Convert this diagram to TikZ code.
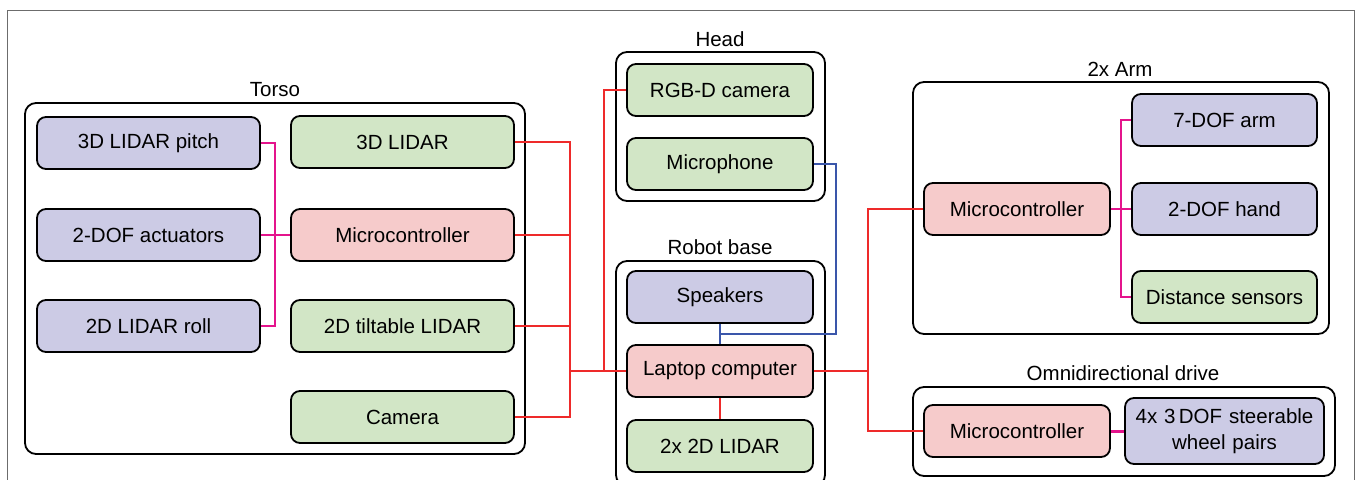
\documentclass[tikz,border=0pt]{standalone}
\usepackage{fontspec}
\setmainfont{Liberation Sans}
\definecolor{cpurple}{HTML}{CCCBE5}
\definecolor{cgreen}{HTML}{D2E6C6}
\definecolor{cpink}{HTML}{F6CBCB}
\definecolor{lred}{HTML}{EE2A2A}
\definecolor{lmag}{HTML}{E4148C}
\definecolor{lblue}{HTML}{3A56AA}
\begin{document}
\begin{tikzpicture}[x=1pt,y=-1pt,
  every node/.style={font=\fontsize{20.5}{24}\selectfont},
  box/.style={draw=black,line width=1.8pt,rounded corners=9pt,minimum height=52pt,minimum width=223pt,inner sep=0pt,align=center},
  pbox/.style={box,fill=cpurple},
  gbox/.style={box,fill=cgreen},
  rbox/.style={box,fill=cpink},
  outer/.style={draw=black,line width=1.8pt,rounded corners=11pt},
  lab/.style={inner sep=0pt},
  redl/.style={draw=lred,line width=2pt},
  magl/.style={draw=lmag,line width=2pt},
  bluel/.style={draw=lblue,line width=2pt}]
\useasboundingbox (0,0) rectangle (1356,479);
\draw[gray!85!black,line width=1pt] (7,495) -- (7,10) -- (1354,10) -- (1354,495);
% outer groups
\draw[outer] (25,103) rectangle (525,454);
\draw[outer] (616,52) rectangle (825,201);
\draw[outer] (616,261) rectangle (825,486);
\draw[outer] (913,82) rectangle (1329,334);
\draw[outer] (913,387) rectangle (1335,476);
\node[lab] (ltorso) at (275,90) {Torso};
\node[lab] (lhead) at (720,39) {Head};
\node[lab] (lbase) at (720,247) {Robot base};
\node[lab] (larm) at (1120,69) {2x Arm};
\node[lab] (lomni) at (1123,373) {Omnidirectional drive};
% torso
\node[pbox] (pitch) at (148.5,143) {3D LIDAR pitch};
\node[pbox] (act) at (148.5,235) {2-DOF actuators};
\node[pbox] (roll) at (148.5,326) {2D LIDAR roll};
\node[gbox] (tl3d) at (402.5,142) {3D LIDAR};
\node[rbox] (tmc) at (402.5,235) {Microcontroller};
\node[gbox] (ttilt) at (402.5,326) {2D tiltable LIDAR};
\node[gbox] (tcam) at (402.5,417) {Camera};
% head
\node[gbox,minimum width=186pt] (rgbd) at (720,90) {RGB-D camera};
\node[gbox,minimum width=186pt] (mic) at (720,164) {Microphone};
% base
\node[pbox,minimum width=186pt] (spk) at (720,297) {Speakers};
\node[rbox,minimum width=186pt] (laptop) at (720,371) {Laptop computer};
\node[gbox,minimum width=186pt] (lidar2) at (720,446) {2x 2D LIDAR};
% arm
\node[rbox,minimum width=186pt] (armmc) at (1017,209) {Microcontroller};
\node[pbox,minimum width=185pt] (arm7) at (1224.5,120) {7-DOF arm};
\node[pbox,minimum width=185pt] (hand) at (1224.5,209) {2-DOF hand};
\node[gbox,minimum width=185pt] (dist) at (1224.5,297) {Distance sensors};
% omni
\node[rbox,minimum width=186pt] (omc) at (1017,431) {Microcontroller};
\node[pbox,minimum width=199pt,minimum height=66pt,text width=190pt] (wheel) at (1224.5,431) {4x 3\,DOF steerable\\[2pt]wheel pairs};
% junction coordinates
\coordinate (tm) at (275,235);
\coordinate (bx) at (570,371);
\coordinate (hx) at (604,371);
\coordinate (bj) at (836,334);
\coordinate (rx) at (868,371);
\coordinate (mx) at (1121,209);
% torso magenta
\draw[magl] (pitch.east) -| (tm);
\draw[magl] (roll.east) -| (tm);
\draw[magl] (act.east) -- (tmc.west);
% torso red
\draw[redl] (tl3d.east) -| (bx);
\draw[redl] (tmc.east) -| (bx);
\draw[redl] (ttilt.east) -| (bx);
\draw[redl] (tcam.east) -| (bx);
\draw[redl] (bx) -- (laptop.west);
\draw[redl] (rgbd.west) -| (hx);
\draw[redl] (laptop.south) -- (lidar2.north);
% blue
\draw[bluel] (mic.east) -| (bj) -| (spk.south);
\draw[bluel] (spk.south) -- (laptop.north);
% right red
\draw[redl] (laptop.east) -- (rx);
\draw[redl] (rx) |- (armmc.west);
\draw[redl] (rx) |- (omc.west);
% arm magenta
\draw[magl] (armmc.east) -- (hand.west);
\draw[magl] (arm7.west) -| (mx);
\draw[magl] (dist.west) -| (mx);
% omni magenta
\draw[magl,line width=3pt] (omc.east) -- (wheel.west);
\end{tikzpicture}
\end{document}
